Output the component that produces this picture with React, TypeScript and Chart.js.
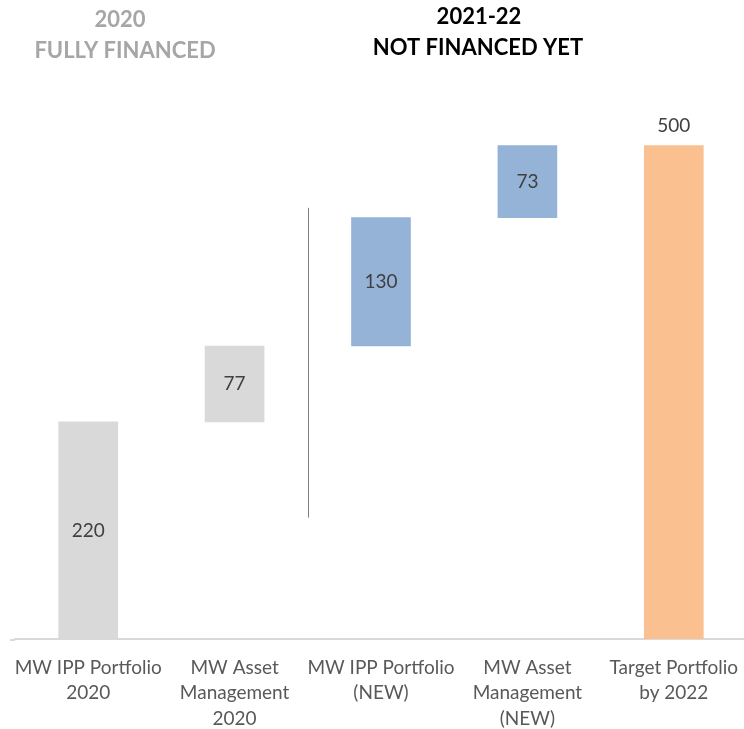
import React, { useEffect, useRef } from "react";
import { Chart, registerables } from "chart.js";

Chart.register(...registerables);

const categories: string[][] = [
  ["MW IPP Portfolio", "2020"],
  ["MW Asset", "Management", "2020"],
  ["MW IPP Portfolio", "(NEW)"],
  ["MW Asset", "Management", "(NEW)"],
  ["Target Portfolio", "by 2022"],
];
const increments: number[] = [220, 77, 130, 73];
const targetTotal = 500;
const barColors: string[] = ["#D9D9D9", "#D9D9D9", "#95B3D7", "#95B3D7", "#FAC090"];
const leftTitle: string[] = ["2020", "FULLY FINANCED"];
const rightTitle: string[] = ["2021-22", "NOT FINANCED YET"];
const separatorRange: number[] = [123, 437];

const FONT = "Lato, 'Liberation Sans', sans-serif";

function buildRanges(): [number, number][] {
  const out: [number, number][] = [];
  let acc = 0;
  for (const v of increments) {
    out.push([acc, acc + v]);
    acc += v;
  }
  out.push([0, targetTotal]);
  return out;
}

export default function App() {
  const ref = useRef<HTMLCanvasElement | null>(null);
  useEffect(() => {
    if (!ref.current) return;
    const ranges = buildRanges();
    const values = [...increments, targetTotal];

    const overlay = {
      id: "overlay",
      afterDatasetsDraw(chart: any) {
        const ctx = chart.ctx;
        const meta = chart.getDatasetMeta(0);
        ctx.save();
        ctx.font = `19px ${FONT}`;
        ctx.fillStyle = "#404040";
        ctx.textAlign = "center";
        ctx.textBaseline = "middle";
        meta.data.forEach((el: any, i: number) => {
          const top = Math.min(el.y, el.base);
          const bot = Math.max(el.y, el.base);
          if (i < values.length - 1) {
            ctx.fillText(String(values[i]), el.x, (top + bot) / 2);
          } else {
            ctx.fillText(String(values[i]), el.x, top - 20);
          }
        });
        const xs = chart.scales.x;
        const ys = chart.scales.y;
        // extend baseline slightly to the left like the reference
        ctx.strokeStyle = "#D9D9D9";
        ctx.lineWidth = 2;
        ctx.beginPath();
        ctx.moveTo(10, chart.chartArea.bottom + 1);
        ctx.lineTo(chart.chartArea.left, chart.chartArea.bottom + 1);
        ctx.stroke();
        // separator line
        const sx = Math.round(xs.getPixelForValue(1.5)) + 0.5;
        ctx.strokeStyle = "#7F7F7F";
        ctx.lineWidth = 1;
        ctx.beginPath();
        ctx.moveTo(sx, ys.getPixelForValue(separatorRange[1]));
        ctx.lineTo(sx, ys.getPixelForValue(separatorRange[0]));
        ctx.stroke();
        // titles
        ctx.font = `bold 22px ${FONT}`;
        ctx.fillStyle = "#A6A6A6";
        ctx.fillText(leftTitle[0], 120, 20);
        ctx.fillText(leftTitle[1], 125, 51);
        ctx.fillStyle = "#000000";
        ctx.fillText(rightTitle[0], 479, 17);
        ctx.fillText(rightTitle[1], 478, 48);
        ctx.restore();
      },
    };

    const chart = new Chart(ref.current, {
      type: "bar",
      data: {
        labels: categories as any,
        datasets: [
          {
            data: ranges as any,
            backgroundColor: barColors,
            borderWidth: 0,
            barThickness: 59,
          },
        ],
      },
      options: {
        animation: false,
        responsive: false,
        devicePixelRatio: 1,
        layout: { padding: { top: 47, left: 15, right: 0, bottom: 0 } },
        plugins: { legend: { display: false }, tooltip: { enabled: false }, title: { display: false } },
        scales: {
          x: {
            grid: { display: false },
            border: { display: true, color: "#D9D9D9", width: 2 },
            ticks: {
              color: "#595959",
              font: { family: FONT, size: 19, lineHeight: 1.34 },
              padding: 8,
              maxRotation: 0,
              autoSkip: false,
            },
            afterFit: (scale: any) => {
              scale.height = 90;
            },
          },
          y: { display: false, min: 0, max: 600 },
        },
      },
      plugins: [overlay],
    });
    return () => chart.destroy();
  }, []);

  return (
    <div style={{ position: "fixed", left: 0, top: 0, width: 744, height: 729, overflow: "hidden", background: "#fff" }}>
      <canvas ref={ref} width={747} height={729} />
    </div>
  );
}
